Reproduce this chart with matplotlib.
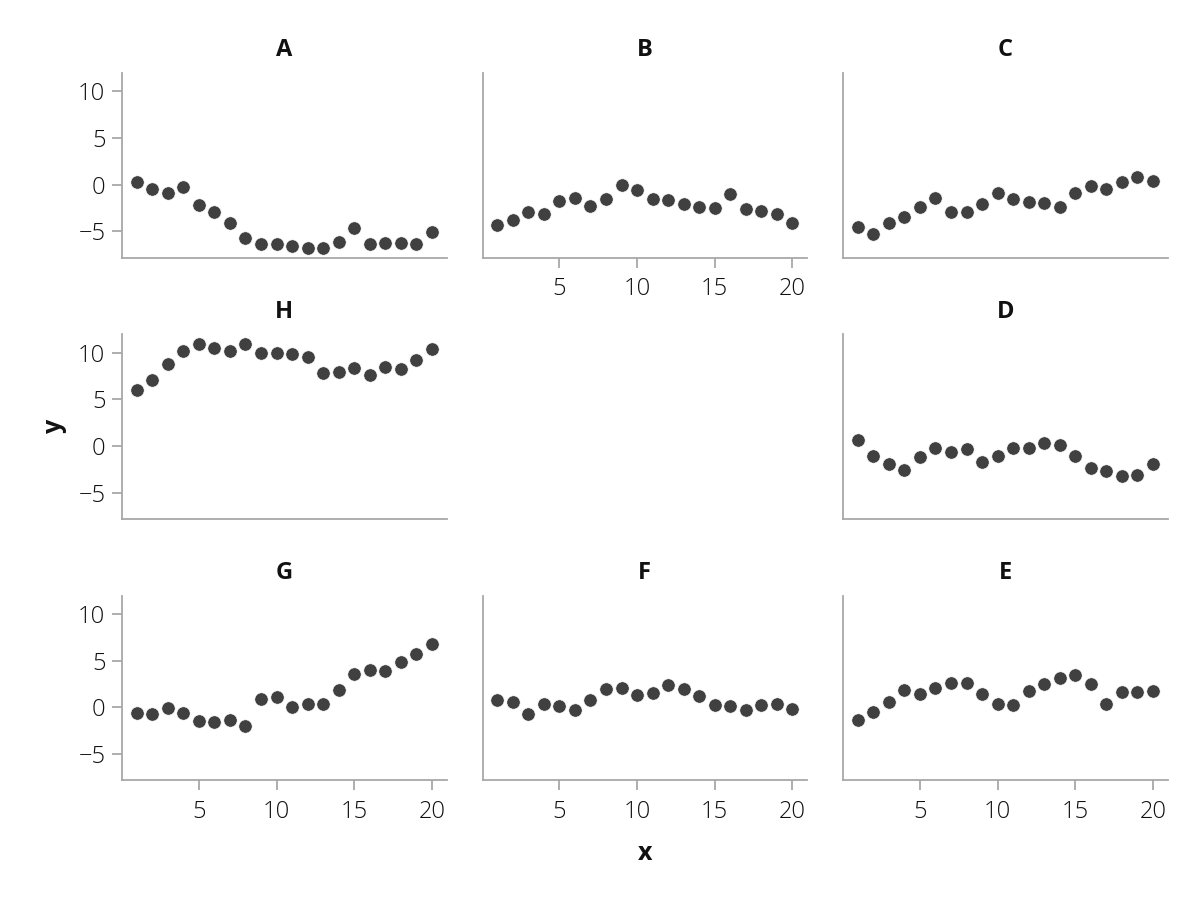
import numpy as np
import matplotlib
matplotlib.use("Agg")
import matplotlib.pyplot as plt

plt.rcParams["font.family"] = ["Open Sans", "DejaVu Sans"]

# ---------------------------------------------------------------------------
# Data
# ---------------------------------------------------------------------------
x = np.arange(1, 21)

A = [0.25, -0.46, -0.92, -0.25, -2.23, -2.97, -4.13, -5.76, -6.36, -6.36,
     -6.6, -6.82, -6.82, -6.15, -4.66, -6.36, -6.22, -6.22, -6.36, -5.02]
B = [-4.31, -3.82, -2.9, -3.11, -1.8, -1.45, -2.33, -1.52, -0.04, -0.6,
     -1.59, -1.7, -2.05, -2.4, -2.47, -0.99, -2.65, -2.79, -3.14, -4.13]
C = [-4.59, -5.3, -4.06, -3.5, -2.37, -1.41, -2.9, -2.9, -2.09, -0.92,
     -1.55, -1.87, -1.94, -2.4, -0.95, -0.11, -0.46, 0.25, 0.78, 0.42]
H = [6.01, 7.08, 8.72, 10.21, 10.96, 10.46, 10.14, 10.96, 9.96, 9.96,
     9.86, 9.5, 7.83, 7.94, 8.36, 7.58, 8.43, 8.19, 9.15, 10.36]
D = [0.64, -1.1, -1.89, -2.56, -1.17, -0.18, -0.68, -0.32, -1.67, -1.03,
     -0.25, -0.18, 0.36, 0.07, -1.07, -2.35, -2.7, -3.17, -3.1, -1.96]
G = [-0.57, -0.75, -0.11, -0.64, -1.42, -1.53, -1.39, -1.96, 0.85, 1.07,
     0.04, 0.39, 0.32, 1.81, 3.52, 3.95, 3.91, 4.84, 5.73, 6.8]
F = [0.82, 0.53, -0.71, 0.32, 0.11, -0.32, 0.82, 1.96, 2.03, 1.28,
     1.53, 2.38, 1.92, 1.25, 0.28, 0.11, -0.25, 0.28, 0.32, -0.14]
E = [-1.39, -0.46, 0.6, 1.89, 1.39, 2.1, 2.6, 2.6, 1.46, 0.39,
     0.25, 1.78, 2.53, 3.1, 3.45, 2.53, 0.39, 1.67, 1.67, 1.74]

# grid layout: (row, col) -> panel name; (1, 1) stays empty
LAYOUT = {
    (0, 0): "A", (0, 1): "B", (0, 2): "C",
    (1, 0): "H",              (1, 2): "D",
    (2, 0): "G", (2, 1): "F", (2, 2): "E",
}
SERIES = {"A": A, "B": B, "C": C, "D": D, "E": E, "F": F, "G": G, "H": H}

X_TICKS = [5, 10, 15, 20]
Y_TICKS = [-5, 0, 5, 10]

DOT = "#404040"
AXIS = "#a8a8a8"

# ---------------------------------------------------------------------------
# Figure
# ---------------------------------------------------------------------------
fig, axes = plt.subplots(3, 3, figsize=(12, 9), dpi=100)
fig.subplots_adjust(left=0.1017, right=0.973, top=0.919, bottom=0.133,
                    wspace=0.111, hspace=0.416)

for r in range(3):
    for c in range(3):
        ax = axes[r, c]
        name = LAYOUT.get((r, c))
        if name is None:
            ax.axis("off")
            continue

        ax.scatter(x, SERIES[name], s=92, color=DOT, edgecolor="white",
                   linewidth=0.4, zorder=3)
        ax.set_xlim(0.05, 20.95)
        ax.set_ylim(-7.8, 11.95)
        ax.set_title(name, fontsize=17, fontweight="bold", pad=12,
                     color="#111111")

        for side in ("top", "right"):
            ax.spines[side].set_visible(False)
        for side in ("left", "bottom"):
            ax.spines[side].set_color(AXIS)
            ax.spines[side].set_linewidth(1.3)

        ax.tick_params(colors=AXIS, length=7, width=1.3, labelsize=17,
                       labelcolor="#111111")
        ax.tick_params(axis="x", pad=7)
        ax.tick_params(axis="y", pad=5)

        # x ticks only where nothing sits below
        show_x = r == 2 or (r, c) == (0, 1)
        ax.set_xticks(X_TICKS if show_x else [])
        ax.set_yticks(Y_TICKS if c == 0 else [])
        for lab in ax.get_xticklabels() + ax.get_yticklabels():
            lab.set_fontweight("light")

fig.text(0.5375, 0.052, "x", fontsize=18, fontweight="bold",
         ha="center", va="center", color="#111111")
fig.text(0.045, 0.527, "y", fontsize=18, fontweight="bold",
         ha="center", va="center", rotation=90, color="#111111")

fig.savefig("out.png", dpi=100, facecolor="white")
